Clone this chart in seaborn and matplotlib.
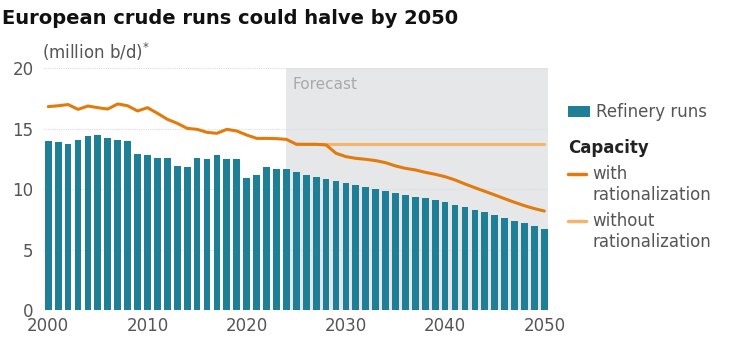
import matplotlib
matplotlib.use("Agg")
import matplotlib.pyplot as plt
from matplotlib.lines import Line2D
from matplotlib.patches import Rectangle
import seaborn as sns
import numpy as np
import pandas as pd

years = list(range(2000, 2051))
refinery_runs = [14.0, 13.9, 13.7, 14.1, 14.4, 14.5, 14.2, 14.1, 14.0, 12.9,
                 12.85, 12.6, 12.55, 11.9, 11.85, 12.6, 12.5, 12.8, 12.5, 12.5,
                 10.95, 11.15, 11.8, 11.65, 11.7, 11.45, 11.17, 11.03, 10.87, 10.7,
                 10.54, 10.37, 10.2, 10.04, 9.88, 9.71, 9.54, 9.38, 9.24, 9.1,
                 8.94, 8.72, 8.52, 8.3, 8.08, 7.86, 7.61, 7.39, 7.17, 6.95, 6.7]
cap_with = [16.83, 16.9, 17.0, 16.6, 16.88, 16.74, 16.63, 17.05, 16.9, 16.47,
            16.74, 16.28, 15.78, 15.45, 15.03, 14.95, 14.7, 14.62, 14.95, 14.81,
            14.48, 14.2, 14.2, 14.18, 14.12, 13.72, 13.71, 13.71, 13.66, 12.97,
            12.69, 12.55, 12.47, 12.36, 12.19, 11.92, 11.72, 11.59, 11.39, 11.23,
            11.03, 10.76, 10.43, 10.12, 9.82, 9.52, 9.21, 8.91, 8.63, 8.39, 8.19]
years_without = list(range(2025, 2051))
cap_without = [13.72] * len(years_without)
forecast_start = 2024
y_ticks = [0, 5, 10, 15, 20]
x_ticks = [2000, 2010, 2020, 2030, 2040, 2050]

BAR = "#1f7f96"
DARK = "#e37a0c"
LIGHT = "#f5b46c"
TXT = "#555555"

sns.set_theme(style="white")
plt.rcParams["font.family"] = ["DejaVu Sans"]

W, H = 731, 348
fig = plt.figure(figsize=(W / 100, H / 100), dpi=100)
ax = fig.add_axes([43.3 / W, 1 - 310 / H, (548.3 - 43.3) / W, (310 - 68.3) / H])

ax.axvspan(forecast_start, 2050.4, ymin=0, ymax=1, color="#e6e7e9", zorder=0, lw=0)
for t in y_ticks[1:]:
    ax.axhline(t, color="#dcdcdc", lw=0.8, ls=(0, (1, 1)), zorder=0.5)

df = pd.DataFrame({"year": years, "runs": refinery_runs})
sns.barplot(data=df, x="year", y="runs", native_scale=True, color=BAR,
            saturation=1, width=0.68, ax=ax, zorder=2, linewidth=0)

sns.lineplot(x=years_without, y=cap_without, color=LIGHT, lw=2.2, ax=ax, zorder=3)
sns.lineplot(x=years, y=cap_with, color=DARK, lw=2.2, ax=ax, zorder=4)

ax.set_xlim(1999.5, 2050.4)
ax.set_ylim(0, 20)
ax.set_xticks(x_ticks)
ax.set_yticks(y_ticks)
ax.set_xlabel("")
ax.set_ylabel("")
ax.tick_params(axis="both", length=0, labelsize=12, labelcolor=TXT)
ax.tick_params(axis="y", pad=7)
ax.tick_params(axis="x", pad=5)
for s in ax.spines.values():
    s.set_visible(False)
ax.set_facecolor("none")

ax.text(forecast_start + 0.6, 19.3, "Forecast", color="#a9a9a9", fontsize=11,
        va="top", ha="left")

fig.text(2 / W, 1 - 18 / H, "European crude runs could halve by 2050",
         fontsize=14, fontweight="bold", color="#111111", va="center", ha="left")
fig.text(42 / W, 1 - 52 / H, r"(million b/d)$^{*}$", fontsize=12, color=TXT,
         va="center", ha="left")

# legend
fig.add_artist(Rectangle((568 / W, 1 - 117 / H), 22 / W, 11 / H,
                         transform=fig.transFigure, color=BAR, lw=0))
fig.text(596 / W, 1 - 112 / H, "Refinery runs", fontsize=12, color=TXT,
         va="center", ha="left")
fig.text(568 / W, 1 - 148 / H, "Capacity", fontsize=12, fontweight="bold",
         color="#222222", va="center", ha="left")
fig.add_artist(Line2D([568 / W, 586 / W], [1 - 174 / H, 1 - 174 / H],
                      transform=fig.transFigure, color=DARK, lw=2.5))
fig.text(592 / W, 1 - 174 / H, "with", fontsize=12, color=TXT, va="center", ha="left")
fig.text(592 / W, 1 - 195 / H, "rationalization", fontsize=12, color=TXT,
         va="center", ha="left")
fig.add_artist(Line2D([568 / W, 586 / W], [1 - 221 / H, 1 - 221 / H],
                      transform=fig.transFigure, color=LIGHT, lw=2.5))
fig.text(592 / W, 1 - 221 / H, "without", fontsize=12, color=TXT, va="center", ha="left")
fig.text(592 / W, 1 - 242 / H, "rationalization", fontsize=12, color=TXT,
         va="center", ha="left")

fig.savefig("out.png", dpi=100)
